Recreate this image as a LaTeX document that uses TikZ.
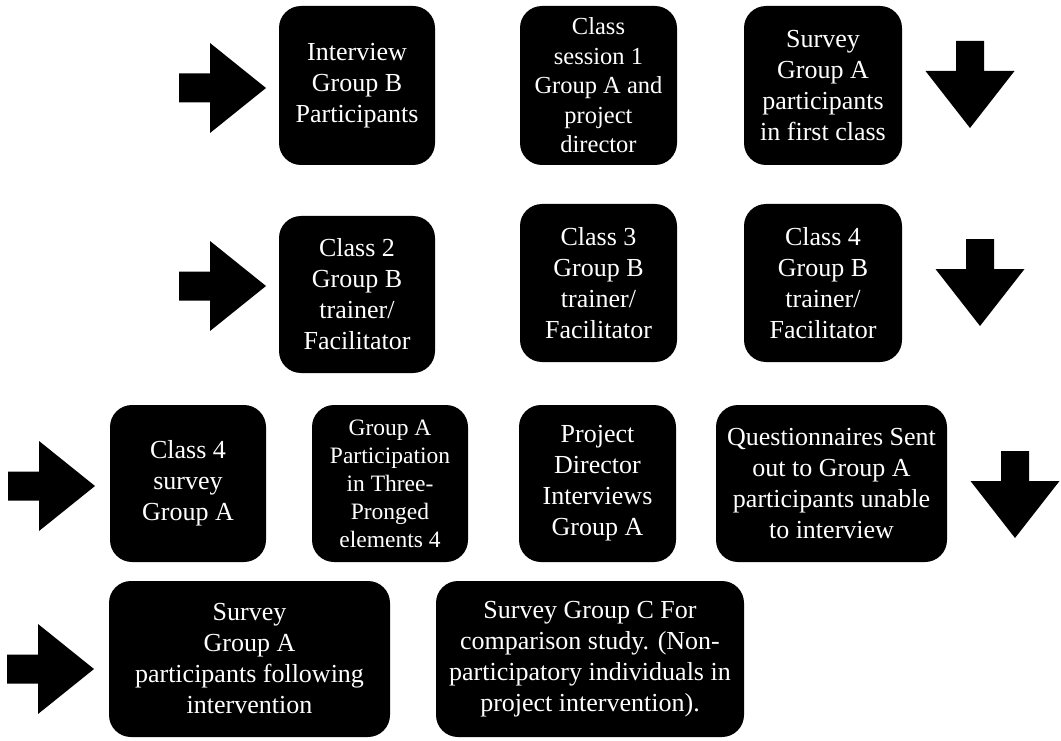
\documentclass[tikz,border=0pt]{standalone}
\usepackage{fontspec}
\setmainfont{Liberation Serif}
\begin{document}
\begin{tikzpicture}[x=1pt,y=-1pt,
  box/.style={fill=black, text=white, rounded corners=22pt, align=center,
    inner sep=0pt, font=\fontsize{26}{31}\selectfont},
  smallbox/.style={box, font=\fontsize{24.5}{29.5}\selectfont},
  tinybox/.style={box, font=\fontsize{23.5}{28}\selectfont},
  blockarrow/.style={fill=black},
  rarrow/.pic={\fill[blockarrow] (0,-14.5) -- (31,-14.5) -- (31,-45) -- (87,0) -- (31,45) -- (31,14.5) -- (0,14.5) -- cycle;},
  darrow/.pic={\fill[blockarrow] (-14,0) -- (14,0) -- (14,30) -- (44.5,30) -- (0,87) -- (-44.5,30) -- (-14,30) -- cycle;}
]
\useasboundingbox (0,0) rectangle (1061,741);

% Row 1
\pic at (179,88) {rarrow};
\node[box, minimum width=156pt, minimum height=159pt] (a1) at (357,85.5) {Interview\\Group B\\Participants};
\node[smallbox, minimum width=157pt, minimum height=159pt] (a2) at (598.5,85.5) {Class\\session 1\\Group A and\\project\\director};
\node[box, minimum width=158pt, minimum height=159pt] (a3) at (823,85.5) {Survey\\Group A\\participants\\in first class};
\pic at (970,41) {darrow};

% Row 2
\pic at (179,286) {rarrow};
\node[box, minimum width=156pt, minimum height=157pt] (b1) at (357,294.5) {Class 2\\Group B\\trainer/\\Facilitator};
\node[box, minimum width=157pt, minimum height=158pt] (b2) at (598.5,283) {Class 3\\Group B\\trainer/\\Facilitator};
\node[box, minimum width=158pt, minimum height=158pt] (b3) at (823,283) {Class 4\\Group B\\trainer/\\Facilitator};
\pic at (980,239) {darrow};

% Row 3
\pic at (8,486) {rarrow};
\node[box, minimum width=156pt, minimum height=157pt] (c1) at (188,483.5) {Class 4\\survey\\Group A};
\node[tinybox, minimum width=156pt, minimum height=157pt] (c2) at (390,483.5) {Group A\\Participation\\in Three-\\Pronged\\elements 4};
\node[box, minimum width=157pt, minimum height=157pt] (c3) at (597.5,483.5) {Project\\Director\\Interviews\\Group A};
\node[box, minimum width=231pt, minimum height=157pt] (c4) at (831.5,483.5) {Questionnaires Sent\\out to Group A\\participants unable\\to interview};
\pic at (1015,451) {darrow};

% Row 4
\pic at (7,669) {rarrow};
\node[box, minimum width=281pt, minimum height=156pt] (d1) at (249.5,659) {Survey\\Group A\\participants following\\intervention};
\node[box, minimum width=308pt, minimum height=156pt] (d2) at (590,659) {Survey Group C For\\comparison study. (Non-\\participatory individuals in\\project intervention).};
\end{tikzpicture}
\end{document}
